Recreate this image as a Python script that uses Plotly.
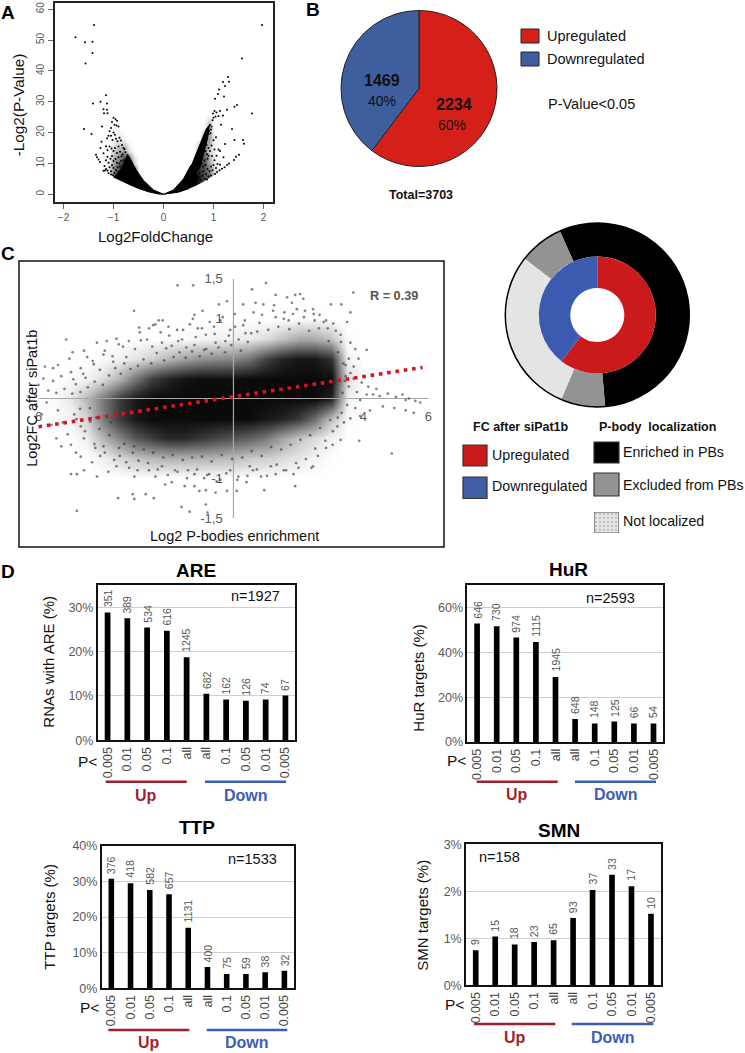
import plotly.graph_objects as go

W, H = 745, 1053
FONT = "Liberation Sans"

# ---- Panel A: volcano plot
A_DENSE_X = [0, -.2, -.4, -.55, -.65, -.72, -.78, -.85, -.95, -1.0, -.7, -.5, -.3, -.1, 0, None,
             0, .2, .4, .55, .62, .68, .62, .5, .3, .1, 0, None,
             .55, .64, .7, .77, .85, .92, .88, .8, .74, .66, .55]
A_DENSE_Y = [0, 1.4, 4.5, 8, 11, 13, 10.5, 8, 6.2, 5.6, 3.3, 1.9, .8, .1, 0, None,
             0, 1.4, 5, 9.5, 9, 6, 3, 1.8, .7, .1, 0, None,
             9, 12.5, 15, 18, 21, 22.5, 18, 13, 9, 7, 9]
A_BIN_X = [-1.2, -1.1, -1, -.9, -.8, -.7, -.6, -.5, .5, .6, .7, .8, .9, 1, 1.1]
A_BIN_Y = [2, 6, 10, 14, 18, 22, 26]
A_DENSITY = [
 [0, 1, 6, 9, 10, 10, 10, 0, 0, 10, 9, 7, 6, 2, 0],
 [0, 1, 6, 9, 10, 10, 10, 0, 0, 10, 9, 7, 6, 2, 0],
 [0, 1, 4, 6, 9, 9, 2, 0, 0, 0, 7, 7, 4, 1, 0],
 [0, 0, 2, 3, 4, 1, 0, 0, 0, 0, 3, 6, 2, .3, 0],
 [0, 0, .5, 1, .3, 0, 0, 0, 0, 0, 0, 3, 4, .5, 0],
 [0, 0, 0, 0, 0, 0, 0, 0, 0, 0, 0, 0, 3, 0, 0],
 [0, 0, 0, 0, 0, 0, 0, 0, 0, 0, 0, 0, 0, 0, 0]]
A_FLOOR_X = [-1.3, -1.25, -1, -.8, -.6, -.4, -.2, 0, .2, .4, .6, .8, 1.05, 1.25, 1.3, 1.3, -1.3]
A_FLOOR_Y = [9, 8.5, 5.7, 4.4, 2.7, 1.2, .3, -.3, .3, 1.1, 2.4, 4.1, 6.5, 8.5, 9, -2.3, -2.3]
A_POINTS = [(-1.39,54.9),(-1.76,50.9),(-1.57,49.3),(-1.42,49.4),(-1.42,45.8),(-1.56,42.4),(-1.15,32.1),(-1.26,30),
 (-1.13,29.4),(-1.41,29.4),(-1.2,27.6),(-1.13,27.4),(-1.19,26.3),(-1.12,26.3),(-1.59,21.2),(-1.23,22),(-1.44,19.5),
 (1.97,54.9),(1.57,44),(1.77,26.2),(1.29,38),(1.31,36.5),(1.19,36.4),(1.23,35.1),(1.11,34),(1.09,32.5),(1.21,31.7),
 (1.03,31),(1.47,28.9),(1.42,28.4),(1.27,27.4),(1.37,21.2),(1.42,17.6),(1.23,16.3),(1.59,17.6),(1.61,16.4),(1.51,12.8),
 (1.45,12.2),(1.41,11.1),(1.31,10),(1.27,9.5),(1.22,8.8),(1.17,8.3),(1.12,7.8),(1.07,7.2),(1.03,6.6),(1.13,9.6),
 (1.0,24.8),(.98,24),(1.04,25.2),(1.06,26.5),(.99,26.2),(1.02,27),(1.1,25.4),(1.13,27),(1.15,22.5),(1.19,25.5),
 (.93,22.5),(.95,21),(.96,22),(.91,20.5),(.9,19.5),(.94,19.8),(1.0,17.5),(1.05,18.5),(1.02,14.5),(1.1,14.5),(1.13,14),
 (1.2,12),(1.02,11),(1.06,12.5),(.97,12.4),(.93,14),(.9,15),(.86,16),(.84,14),(.82,11),(.88,11.5),(.95,9),(1.0,9.5),
 (1.08,9.8),(1.05,8.5),(.92,7.5),(.88,8.2),(.85,6.5),(.9,5.8),(.95,6.1),(.8,7.5),(.78,6),(.83,5),(.75,4.6),(.7,5.5),
 (.72,7),(.76,10),(.79,9),(.84,9.5),(.74,11.5),(.81,15.5),(.87,13),(.9,12.5),(.96,15.8),(.98,7.8),(.87,4.8),
 (-1.35,12.8),(-1.33,12),(-1.3,11.3),(-1.27,10.5),(-1.24,17),(-1.26,15),(-1.15,15.6),(-1.12,14.3),(-1.2,13.3),
 (-1.1,19),(-1.13,18.2),(-1.08,20.4),(-1.05,21.5),(-1.0,24.8),(-.96,24.3),(-.93,23.8),(-.98,22.5),(-.94,22.3),(-.9,22),
 (-1.03,23.4),(-1.05,19),(-1.02,17.6),(-1.0,20),(-.97,19.3),(-.95,18),(-.92,17.2),(-.88,18.3),(-.85,17.4),(-.9,15.5),
 (-.83,16),(-.8,15),(-.78,14.7),(-.76,13.6),(-1.08,15.5),(-1.04,14.8),(-1.0,14),(-.97,15),(-.93,13.4),(-.9,12),
 (-.87,13.8),(-.84,12.3),(-.82,13),(-1.15,11),(-1.12,12.2),(-1.1,10.2),(-1.06,11.5),(-1.03,12.4),(-1.0,10.8),
 (-.96,11.4),(-.93,10.2),(-.88,10),(-.85,10.8),(-.8,11),(-1.18,9.2),(-1.15,8.2),(-1.12,7.7),(-1.08,8.8),(-1.05,7.5),
 (-1.03,9.4),(-1.0,8.5),(-1.17,7.7),(-1.1,6.8),(-1.05,6.4),(-.98,6.9),(-.95,7.8),(-.92,8.8),(-.9,7.3),(-.87,9),
 (-.84,8.1),(-.82,7.2),(-.8,9),(-.76,8.4),(-.74,10.8),(-.72,12),(-1.01,6.2),(-.96,5.8),(-.9,5.5),(-.85,5),(-1.2,7.6)]

# ---- Panel B
B_LABELS = ["Upregulated", "Downregulated"]
B_VALUES = [2234, 1469]

# ---- Panel C: density of the dense cloud, plus single points
C_BIN_X = [-6, -5.5, -5, -4.5, -4, -3.5, -3, -2.5, -2, -1.5, -1, -.5, 0, .5, 1, 1.5, 2, 2.5, 3, 3.5, 4, 4.5]
C_BIN_Y = [-1.25, -1, -.75, -.5, -.25, 0, .25, .5, .75, 1, 1.25]
C_DENSITY = [
 [0,0,0,0,0,0,0,0,0,0,0,0,0,0,0,0,0,0,0,0,0,0],
 [0,0,0,0,0,0,0,0,0,0,0,0,0,0,0,0,0,0,0,0,0,0],
 [0,0,0,0,.6,1.6,2.5,3,3.2,3.2,3.2,3,2.8,2.2,2,1.5,1,.5,.1,0,0,0],
 [0,0,.1,.8,3.2,5,7,8,8.8,8.8,8.2,7.6,7,6.5,5.5,3.8,2.5,1.5,.5,0,0,0],
 [0,.1,.5,2,5.5,8,9.5,10,10,10,10,10,10,10,9.5,9,8,6,2.5,.2,0,0],
 [0,.2,1,3,5.5,8,9.5,10,10,10,10,10,10,10,10,10,10,10,9,.6,0,0],
 [0,0,.2,.5,1.5,3.2,5.8,8,9,9.7,9.9,9.9,9.9,10,10,10,10,10,10,1.5,0,0],
 [0,0,0,0,.2,.6,1.2,2,3,3.8,4.5,4.8,5,5.8,7.8,9,9.5,9.5,8.5,.5,0,0],
 [0,0,0,0,0,0,0,0,.1,.2,.4,.5,.7,.9,1.5,2.5,3.5,3.5,2.5,.1,0,0],
 [0,0,0,0,0,0,0,0,0,0,0,0,0,0,0,0,.2,.2,0,0,0,0],
 [0,0,0,0,0,0,0,0,0,0,0,0,0,0,0,0,0,0,0,0,0,0]]
C_POINTS = [(-1.72,1.42),(-1.24,1.42),(1.0,1.45),(.57,1.37),(3.69,1.33),(-3.06,1.1),(-.2,1.22),(-.45,1.18),(-.95,1.1),
 (-1.2,1.05),(-1.25,1.0),(-2.3,.98),(-2.18,.98),(-2.4,.93),(-2.9,.89),(-2.6,.88),(-2.0,.9),(-1.55,.86),(-1.1,.88),
 (-.85,.8),(-.6,.9),(-.4,.98),(-.1,.86),(.05,.9),(.3,.92),(.35,.98),(.55,.82),(.8,.95),(.3,1.18),(.68,1.2),(.92,1.18),
 (1.25,1.17),(1.3,1.3),(1.65,1.27),(1.9,1.3),(2.05,1.31),(2.15,1.25),(1.8,1.2),(1.95,1.12),(2.2,1.1),(2.45,1.12),
 (2.65,1.05),(2.85,.98),(3.0,1.18),(3.32,1.18),(3.6,1.08),(3.5,.96),(3.15,.85),(3.3,.8),(3.6,.7),(3.75,.62),(4.1,.61),
 (3.85,.5),(3.55,.5),(3.45,.42),(3.7,.4),(1.3,1.02),(1.55,1.0),(1.7,.98),(2.5,.98),(2.9,.88),
 (-5.15,.74),(-4.95,.58),(-5.05,.5),(-4.6,.6),(-4.5,.52),(-4.2,.7),(-3.9,.72),(-3.6,.75),(-3.4,.65),(-3.3,.52),(-3.7,.46),
 (-4.0,.55),(-4.3,.43),(-4.7,.38),(-5.4,.42),(-5.55,.38),(-5.8,.4),(-5.85,.25),(-5.55,.22),(-5.3,.28),(-5.0,.33),
 (-4.55,.26),(-4.85,.18),(-5.2,.12),(-6.1,.05),(-6.3,.03),(-5.7,.1),(-5.45,.07),(-6.0,.17),(-2.85,.73),(-2.5,.65),
 (-2.2,.7),(-1.9,.66),(-1.7,.72),(-1.45,.64),(-1.2,.67),(-.9,.61),(-.55,.7),(-.25,.72),
 (-6.05,-.1),(-5.9,-.2),(-5.75,-.05),(-5.6,-.33),(-5.4,-.15),(-5.25,-.3),(-5.45,-.5),(-5.3,-.6),(-5.1,-.45),(-5.0,-.58),
 (-4.9,-.2),(-4.7,-.35),(-4.6,-.5),(-4.85,-.68),(-5.0,-.95),(-4.82,-.95),(-4.6,-.9),(-4.7,-.73),(-4.35,-.8),(-4.1,-.72),
 (-4.0,-.6),(-4.25,-.62),(-4.2,-.98),(-3.85,-.92),(-3.6,-.85),(-3.5,-.72),(-3.3,-.8),(-3.1,-.68),(-3.05,-.98),(-2.95,-.9),
 (-3.55,-1.25),(-3.1,-1.2),(-3.05,-1.26),(-2.7,-1.2),(-2.45,-1.25),(-1.6,-1.36),(-1.35,-1.42),(-1.05,-1.16),(-.85,-1.15),
 (-.8,-1.43),(-.85,-1.33),(-.75,-.95),(-.55,-1.18),(-.9,-1.0),(-1.2,-1.1),(-1.5,-1.1),(-1.9,-1.05),(-2.1,-1.08),(-2.4,-.98),
 (-2.6,-.9),(-2.2,-.85),(-1.8,-.9),(-1.4,-.9),(-1.2,-.95),(-4.82,-1.41),(-.4,-1.02),(-.2,-1.16),(.1,-1.16),(.15,-.98),
 (.4,-1.05),(.6,-.9),(.95,-1.15),(.85,-.98),(1.3,-.95),(1.55,-.9),(1.9,-1.1),(1.85,-.95),(2.0,-.87),(2.4,-.87),(2.45,-.85),
 (.5,-.85),(-.1,-.9),(1.15,-.85),(2.6,-.72),(2.85,-.62),(3.05,-.58),(3.3,-.52),(3.87,-.53),(4.87,-.69),(3.2,-.35),(3.4,-.3),
 (3.6,-.25),(3.75,-.12),(3.5,-.08),(3.9,-.02),(4.1,.05),(4.3,.05),(4.5,.03),(4.75,.06),(5.0,.02),(5.2,.05),(5.3,-.02),
 (5.4,.0),(5.6,-.03),(5.75,-.05),(5.3,-.15),(5.55,-.18),(4.6,-.1),(4.95,-.12),(4.2,-.15),(3.9,-.22),(4.15,.15),(4.4,.12),
 (3.95,.2),(3.7,.25),(3.55,.15),(3.8,.08),(3.6,.32),(3.45,.28),
 # speckle round the core of the cloud
 (-4.93,.24),(-4.71,.08),(-4.62,.31),(-4.48,.14),(-4.33,.47),(-4.27,.21),(-4.11,.36),(-4.02,.17),(-3.96,.6),(-3.83,.29),
 (-3.72,.53),(-3.64,.38),(-3.53,.68),(-3.47,.31),(-3.36,.44),(-3.22,.72),(-3.17,.37),(-3.03,.62),(-2.94,.41),(-2.88,.83),
 (-2.77,.49),(-2.66,.74),(-2.53,.44),(-2.47,.92),(-2.36,.57),(-2.24,.83),(-2.13,.48),(-2.07,.63),(-1.98,.79),(-1.84,.52),
 (-1.73,.86),(-1.66,.58),(-1.58,.74),(-1.47,.51),(-1.34,.93),(-1.27,.59),(-1.16,.77),(-1.04,.53),(-.97,.88),(-.84,.62),
 (-.73,.96),(-.67,.56),(-.58,.81),(-.46,.64),(-.33,1.02),(-.26,.58),(-.14,.79),(-.07,.67),(.04,1.06),(.16,.74),(.23,.6),
 (.37,.82),(.44,.71),(.62,1.08),(.73,.84),(.88,1.05),(1.07,.86),(1.22,1.1),(1.38,.9),(1.57,1.08),(1.72,.87),(1.83,1.06),
 (2.02,.94),(2.17,1.02),(2.33,.85),(2.47,1.06),(2.63,.88),(2.78,.96),(2.93,.72),(3.07,.94),(3.22,.58),(3.31,.71),(3.38,.44),
 (3.43,.22),(3.36,.07),(3.33,-.18),(3.21,-.24),(3.06,-.41),(2.98,-.27),(2.83,-.53),(2.67,-.37),(2.52,-.63),(2.36,-.46),
 (2.23,-.76),(2.06,-.52),(1.93,-.81),(1.76,-.58),(1.62,-.9),(1.47,-.64),(1.33,-.83),(1.16,-.61),(1.03,-.97),(.87,-.72),
 (.72,-.89),(.56,-.66),(.43,-.97),(.27,-.74),(.12,-1.02),(-.04,-.76),(-.22,-.94),(-.36,-.71),(-.52,-1.04),(-.67,-.79),
 (-.81,-.96),(-.97,-.73),(-1.12,-.89),(-1.27,-.74),(-1.43,-1.0),(-1.56,-.77),(-1.72,-.92),(-1.87,-.71),(-2.02,-.96),
 (-2.16,-.74),(-2.33,-.89),(-2.47,-.68),(-2.63,-.81),(-2.76,-.64),(-2.92,-.78),(-3.06,-.6),(-3.21,-.87),(-3.36,-.57),
 (-3.52,-.62),(-3.67,-.77),(-3.82,-.46),(-3.96,-.68),(-4.12,-.38),(-4.28,-.57),(-4.41,-.29),(-4.57,-.41),(-4.72,-.13),
 (-4.83,-.26),(-4.96,.06),(-4.42,-.12),(-4.22,-.24),(-3.77,-.3)]
C_TREND_X = [-6, 5.82]
C_TREND_Y = [-.355, .39]
C_YTICKS = [-1.5, -1, 0, 1, 1.5]
C_YLABELS = ["-1,5", "-1", "0", "1", "1,5"]
C_XTICKS = [-6, 4, 6]
C_XLABELS = ["6", "4", "6"]

# ---- Donut
RING_LABELS = ["Enriched in PBs", "Excluded from PBs (lower)", "Not localized", "Excluded from PBs (upper)"]
RING_VALUES = [55.3, 7.8, 29.1, 7.8]
INNER_LABELS = ["Upregulated", "Downregulated"]
INNER_VALUES = [60.5, 39.5]

# ---- Panel D
P_LABELS = ["0.005", "0.01", "0.05", "0.1", "all", "all", "0.1", "0.05", "0.01", "0.005"]
ARE_VALUES = [28.8, 27.5, 25.4, 24.7, 18.7, 10.5, 9.2, 8.9, 9.2, 10.1]
ARE_COUNTS = ["351", "389", "534", "616", "1245", "682", "162", "126", "74", "67"]
HUR_VALUES = [52.8, 51.6, 46.6, 44.6, 29, 10.3, 8.3, 9.1, 8.3, 8.3]
HUR_COUNTS = ["646", "730", "974", "1115", "1945", "648", "148", "125", "66", "54"]
TTP_VALUES = [30.7, 29.5, 27.6, 26.4, 17, 6, 4, 4, 4.5, 4.9]
TTP_COUNTS = ["376", "418", "582", "657", "1131", "400", "75", "59", "38", "32"]
SMN_VALUES = [.745, 1.04, .87, .92, .96, 1.43, 2.03, 2.35, 2.11, 1.52]
SMN_COUNTS = ["9", "15", "18", "23", "65", "93", "37", "33", "17", "10"]


def fx(p): return p / W
def fy(p): return 1 - p / H

RED, BLUE = "#D5201A", "#3F5EA6"
annos, shapes = [], []

def text(x, y, s, size=14, color="#111", bold=False, angle=0, anchor="center"):
    annos.append(dict(xref="paper", yref="paper", x=fx(x), y=fy(y), text=f"<b>{s}</b>" if bold else s, showarrow=False,
                      font=dict(size=size, color=color, family=FONT), textangle=angle, xanchor=anchor, yanchor="middle",
                      borderpad=0, borderwidth=0))

def rect(x0, y0, x1, y1, fill="rgba(0,0,0,0)", line="#111", lw=1.5, kind="rect"):
    shapes.append(dict(type=kind, xref="paper", yref="paper", x0=fx(x0), x1=fx(x1), y0=fy(y0), y1=fy(y1),
                       fillcolor=fill, line=dict(color=line, width=lw)))

fig = go.Figure()

# Panel A
fig.add_trace(go.Heatmap(x=A_BIN_X, y=A_BIN_Y, z=A_DENSITY, zmin=0, zmax=10, zsmooth="best", showscale=False, hoverinfo="skip",
                         colorscale=[[0, "rgba(0,0,0,0)"], [1, "rgba(0,0,0,1)"]], xaxis="x", yaxis="y"))
fig.add_trace(go.Scatter(x=A_FLOOR_X, y=A_FLOOR_Y, mode="lines", fill="toself", fillcolor="#fff", line=dict(width=0),
                         hoverinfo="skip", xaxis="x", yaxis="y"))
fig.add_trace(go.Scatter(x=A_DENSE_X, y=A_DENSE_Y, mode="lines", fill="toself", fillcolor="#000", line=dict(color="#000", width=1),
                         hoverinfo="skip", xaxis="x", yaxis="y"))
fig.add_trace(go.Scatter(x=[p[0] for p in A_POINTS], y=[p[1] for p in A_POINTS], mode="markers",
                         marker=dict(color="#000", size=2), hoverinfo="skip", xaxis="x", yaxis="y"))

# Panel B pie
fig.add_trace(go.Pie(labels=B_LABELS, values=B_VALUES, sort=False, direction="clockwise", rotation=0, textinfo="none",
                     hoverinfo="skip", marker=dict(colors=[RED, "#3F5E9E"], line=dict(color="#222", width=1)),
                     domain=dict(x=[fx(341), fx(497)], y=[fy(167), fy(10)])))

# Panel C
fig.add_trace(go.Scatter(x=[-6, 6], y=[0, 0], mode="lines", line=dict(color="#A8A8A8", width=1.2), hoverinfo="skip", xaxis="x2", yaxis="y2"))
fig.add_trace(go.Scatter(x=[0, 0], y=[-1.5, 1.5], mode="lines", line=dict(color="#A8A8A8", width=1.2), hoverinfo="skip", xaxis="x2", yaxis="y2"))
fig.add_trace(go.Heatmap(x=C_BIN_X, y=C_BIN_Y, z=C_DENSITY, zmin=0, zmax=10, zsmooth="best", showscale=False, hoverinfo="skip",
                         colorscale=[[0, "rgba(10,10,10,0)"], [1, "rgba(10,10,10,1)"]], xaxis="x2", yaxis="y2"))
fig.add_trace(go.Scatter(x=[p[0] for p in C_POINTS], y=[p[1] for p in C_POINTS], mode="markers",
                         marker=dict(color="rgba(50,50,50,0.6)", size=2.7), hoverinfo="skip", xaxis="x2", yaxis="y2"))
fig.add_trace(go.Scatter(x=C_TREND_X, y=C_TREND_Y, mode="lines", line=dict(color="#D8141C", width=3.6, dash="3.6px,4.8px"),
                         hoverinfo="skip", xaxis="x2", yaxis="y2"))

# Donut
fig.add_trace(go.Pie(labels=RING_LABELS, values=RING_VALUES, sort=False, direction="clockwise", rotation=336, hole=58.5 / 92,
                     textinfo="none", hoverinfo="skip", marker=dict(colors=["#000", "#939393", "#E4E4E4", "#939393"], line=dict(width=0)),
                     domain=dict(x=[fx(505.3), fx(689.3)], y=[fy(407), fy(223)])))
fig.add_trace(go.Pie(labels=INNER_LABELS, values=INNER_VALUES, sort=False, direction="clockwise", rotation=0, hole=27 / 58.5,
                     textinfo="none", hoverinfo="skip", marker=dict(colors=["#CB1A1C", "#3A5BB0"], line=dict(width=0)),
                     domain=dict(x=[fx(538.8), fx(655.8)], y=[fy(373.5), fy(256.5)])))
rect(505.3, 223, 689.3, 407, line="#000", lw=1.5, kind="circle")

layout_axes = {}

layout_axes["xaxis"] = dict(domain=[fx(55), fx(273)], anchor="y", range=[-2.17, 2.19], tickvals=[-2, -1, 0, 1, 2], ticks="outside",
                            ticklen=5, tickcolor="#666", tickfont=dict(size=10, color="#555"), showgrid=False, zeroline=False,
                            showline=True, mirror=True, linecolor="#222", linewidth=2)
layout_axes["yaxis"] = dict(domain=[fy(202), fy(3)], anchor="x", range=[-2.5, 62], tickvals=[0, 10, 20, 30, 40, 50, 60], ticks="outside",
                            ticklen=5, tickcolor="#666", tickfont=dict(size=10, color="#555"), tickangle=-90, showgrid=False, zeroline=False,
                            showline=True, mirror=True, linecolor="#222", linewidth=2)
layout_axes["xaxis2"] = dict(domain=[fx(19), fx(444)], anchor="free", position=fy(398), range=[-6.6, 6.48], tickvals=C_XTICKS,
                             ticktext=C_XLABELS, ticks="outside", ticklen=6, tickcolor="rgba(0,0,0,0)", tickfont=dict(size=13, color="#595959"),
                             showgrid=False, zeroline=False, showline=False, layer="below traces")
layout_axes["yaxis2"] = dict(domain=[fy(547), fy(261)], anchor="free", position=fx(233.3), range=[-1.863, 1.725], tickvals=C_YTICKS,
                             ticktext=C_YLABELS, ticks="outside", ticklen=8, tickcolor="rgba(0,0,0,0)", tickfont=dict(size=13, color="#595959"),
                             showgrid=False, zeroline=False, showline=False, layer="below traces")
rect(19, 261, 444, 547, line="#111", lw=1.5)


def bar_panel(idx, values, counts, box, ymax, dtick, title, title_xy, ytitle, ytitle_xy, n, n_xy, p_xy, up, down, line_y, label_y):
    x0, x1, y0, y1 = box
    xs = list(range(len(values)))
    fig.add_trace(go.Bar(x=xs, y=values, width=.29, marker=dict(color="#000", line=dict(width=0)),
                         hoverinfo="skip", xaxis=f"x{idx}", yaxis=f"y{idx}"))
    for xv, yv, c in zip(xs, values, counts):
        annos.append(dict(xref=f"x{idx}", yref=f"y{idx}", x=xv, y=yv, text=c, showarrow=False, textangle=-90, yshift=4,
                          xanchor="center", yanchor="bottom", borderpad=0, font=dict(size=10.5, color="#555", family=FONT)))
    layout_axes[f"xaxis{idx}"] = dict(domain=[fx(x0), fx(x1)], anchor=f"y{idx}", range=[-.5, 9.5], tickvals=xs, ticktext=P_LABELS,
                                      tickangle=-90, ticks="", tickfont=dict(size=12.5, color="#444"), showgrid=False, zeroline=False,
                                      showline=True, mirror=True, linecolor="#111", linewidth=1.5)
    layout_axes[f"yaxis{idx}"] = dict(domain=[fy(y1), fy(y0)], anchor=f"x{idx}", range=[0, ymax], dtick=dtick, ticksuffix="%",
                                      ticks="", tickfont=dict(size=12.5, color="#595959"), showgrid=True, gridcolor="#CFCFCF", gridwidth=1.2,
                                      zeroline=False, showline=True, mirror=True, linecolor="#111", linewidth=1.5)
    text(title_xy[0], title_xy[1], title, size=19, color="#000", bold=True)
    text(ytitle_xy[0], ytitle_xy[1], ytitle, size=15, angle=-90)
    text(n_xy[0], n_xy[1], n, size=14.5)
    text(p_xy[0], p_xy[1], "P&lt;", size=15.5)
    for (a, b), c, lab in ((up, "#A01F2E", "Up"), (down, "#3A5DB8", "Down")):
        shapes.append(dict(type="line", xref="paper", yref="paper", x0=fx(a), x1=fx(b), y0=fy(line_y), y1=fy(line_y),
                           line=dict(color=c, width=2.5)))
        text((a + b) / 2, label_y, lab, size=16, color=c, bold=True)


bar_panel(3, ARE_VALUES, ARE_COUNTS, (97.7, 295.3, 585, 740.3), 35, 10, "ARE", (195.7, 570), "RNAs with ARE (%)", (49, 661.7),
          "n=1927", (255, 595.7), (87, 761), (105.7, 186.7), (205, 286), 781.7, 795.7)
bar_panel(4, HUR_VALUES, HUR_COUNTS, (467.3, 663.3, 585, 742), 70, 20, "HuR", (568.3, 569.3), "HuR targets (%)", (417.7, 678),
          "n=2593", (610.7, 597.7), (457, 760), (476.7, 557.7), (575, 656), 781.7, 795)
bar_panel(5, TTP_VALUES, TTP_COUNTS, (101.7, 294, 845.7, 988.3), 40, 10, "TTP", (197.3, 827.7), "TTP targets (%)", (50, 916.7),
          "n=1533", (252.3, 859), (89.3, 1007.7), (108.3, 189.3), (206.7, 287.3), 1030, 1042)
bar_panel(6, SMN_VALUES, SMN_COUNTS, (466, 660.7, 844.3, 985.3), 3, 1, "SMN", (559, 830), "SMN targets (%)", (421.7, 915),
          "n=158", (499.3, 856.7), (454.3, 1004), (474, 555.3), (571.7, 653.3), 1024, 1037.7)

# Patterned swatch of the "Not localized" legend entry
fig.add_trace(go.Bar(x=[0], y=[1], width=1, hoverinfo="skip", xaxis="x7", yaxis="y7",
                     marker=dict(color="#E6E6E6", line=dict(color="#555", width=1.2),
                                 pattern=dict(shape=".", fgcolor="#9A9A9A", bgcolor="#E6E6E6", size=4, solidity=.25))))
layout_axes["xaxis7"] = dict(domain=[fx(594), fx(619)], anchor="y7", range=[-.5, .5], visible=False)
layout_axes["yaxis7"] = dict(domain=[fy(533), fy(512)], anchor="x7", range=[0, 1], visible=False)

# Panel letters and free texts
for s, x, y in (("A", 8, 12), ("B", 313, 10), ("C", 8, 254), ("D", 8, 571)):
    text(x, y, s, size=19, color="#000", bold=True)
text(155, 237, "Log2FoldChange", size=15)
text(18.3, 105, "-Log2(P-Value)", size=15.3, angle=-90)
text(382, 80, "1469", size=16, bold=True)
text(382, 101, "40%", size=14)
text(454, 104, "2234", size=16, bold=True)
text(452, 125, "60%", size=14)
text(421, 195, "Total=3703", size=12.5, bold=True)
rect(521, 29, 539, 43, fill=RED, line="#222", lw=1)
rect(521, 52, 539, 66, fill="#3F5E9E", line="#222", lw=1)
text(547, 36, "Upregulated", size=14.5, anchor="left")
text(547, 59, "Downregulated", size=14.5, anchor="left")
text(548, 104, "P-Value&lt;0.05", size=14.5, anchor="left")

text(234.7, 536, "Log2 P-bodies enrichment", size=14.5)
text(31.7, 398, "Log2FC after siPat1b", size=14.5, angle=-90)
text(393.8, 295.7, "R = 0.39", size=12.7, color="#555", bold=True)

text(520.5, 427, "FC after siPat1b", size=12.5, bold=True)
text(657.5, 427, "P-body  localization", size=12.5, bold=True)
rect(463, 445, 487, 466, fill="#CB1A1C", line="#333", lw=1.2)
rect(463, 477, 487, 498.5, fill="#3F5EA6", line="#333", lw=1.2)
rect(594, 442, 619, 463, fill="#000", line="#333", lw=1.2)
rect(594, 473, 619, 496, fill="#939393", line="#333", lw=1.2)
text(491.5, 455, "Upregulated", size=14.2, anchor="left")
text(491.5, 486, "Downregulated", size=14.2, anchor="left")
text(622.5, 452, "Enriched in PBs", size=14.2, anchor="left")
text(622.5, 485, "Excluded from PBs", size=14.2, anchor="left")
text(622.5, 521, "Not localized", size=14.2, anchor="left")

fig.update_layout(width=W, height=H, margin=dict(l=0, r=0, t=0, b=0, pad=0, autoexpand=False), autosize=False, showlegend=False,
                  paper_bgcolor="white", plot_bgcolor="rgba(0,0,0,0)", font=dict(family=FONT), annotations=annos, shapes=shapes,
                  **layout_axes)
fig.write_html("out.html", post_script="document.body.style.margin='0';document.documentElement.style.overflow='hidden';",
               config=dict(displayModeBar=False))
